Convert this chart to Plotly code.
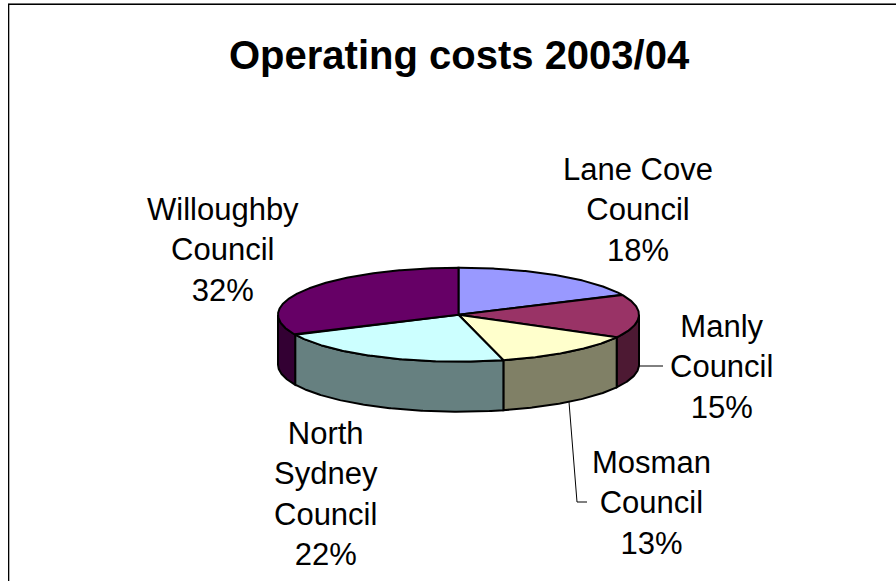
import numpy as np
import plotly.graph_objects as go

title = "Operating costs 2003/04"
councils = ["Lane Cove Council", "Manly Council", "Mosman Council", "North Sydney Council", "Willoughby Council"]
shares = [18, 15, 13, 22, 32]
top_colors = ["#9999FF", "#993366", "#FFFFCC", "#CCFFFF", "#660066"]
side_colors = ["#4D4D80", "#4D1933", "#808066", "#668080", "#330033"]
label_lines = [
    "Lane Cove<br>Council<br>18%",
    "Manly<br>Council<br>15%",
    "Mosman<br>Council<br>13%",
    "North<br>Sydney<br>Council<br>22%",
    "Willoughby<br>Council<br>32%",
]
label_x = [638, 721, 651, 326, 223]
label_y = [210, 367, 503, 494, 250]

CX, CY, RX, RY, DEPTH = 458.5, 314.7, 180.5, 47.0, 50.0


def rim(a0, a1, dy=0.0):
    t = np.radians(np.linspace(a0, a1, max(int(abs(a1 - a0) * 2), 2)))
    return CX + RX * np.sin(t), CY - RY * np.cos(t) + dy


fig = go.Figure()
edges = np.cumsum([0] + shares) * 3.6


def poly(x, y, color):
    fig.add_trace(go.Scatter(x=x, y=y, mode="lines", fill="toself", fillcolor=color,
                             line=dict(color="black", width=2), hoverinfo="skip", showlegend=False))


for i in range(len(shares)):
    a0, a1 = max(edges[i], 90), min(edges[i + 1], 270)
    if a1 > a0:
        xt, yt = rim(a0, a1)
        xb, yb = rim(a0, a1, DEPTH)
        poly(np.r_[xt, xb[::-1], xt[0]], np.r_[yt, yb[::-1], yt[0]], side_colors[i])

for i in range(len(shares)):
    x, y = rim(edges[i], edges[i + 1])
    poly(np.r_[CX, x, CX], np.r_[CY, y, CY], top_colors[i])

# leader lines
fig.add_trace(go.Scatter(x=[639, 663], y=[366, 366], mode="lines",
                         line=dict(color="black", width=1), hoverinfo="skip", showlegend=False))
fig.add_trace(go.Scatter(x=[569, 577, 587], y=[402, 502, 502], mode="lines",
                         line=dict(color="black", width=1), hoverinfo="skip", showlegend=False))

for text, x, y in zip(label_lines, label_x, label_y):
    fig.add_annotation(x=x, y=y, text=text, showarrow=False, xanchor="center", yanchor="middle",
                       align="center", font=dict(family="Liberation Sans", size=31, color="black"))

fig.add_annotation(x=459, y=55, text=f"<b>{title}</b>", showarrow=False, xanchor="center", yanchor="middle",
                   font=dict(family="Liberation Sans", size=40, color="black"))

# chart frame: black rule with a grey edge, open on the right and at the bottom
fig.add_shape(type="line", x0=8.5, x1=8.5, y0=4, y1=581, line=dict(color="black", width=1))
fig.add_shape(type="line", x0=9.5, x1=9.5, y0=5, y1=581, line=dict(color="#B0B0B0", width=1))
fig.add_shape(type="line", x0=8, x1=896, y0=4.5, y1=4.5, line=dict(color="black", width=1))
fig.add_shape(type="line", x0=8, x1=896, y0=3.5, y1=3.5, line=dict(color="#707070", width=1))

fig.update_xaxes(range=[0, 896], visible=False, fixedrange=True)
fig.update_yaxes(range=[581, 0], visible=False, fixedrange=True)
fig.update_layout(width=896, height=581, margin=dict(l=0, r=0, t=0, b=0),
                  paper_bgcolor="white", plot_bgcolor="white", showlegend=False)
fig.write_html("out.html", config={"displayModeBar": False},
               post_script="document.body.style.margin='0';document.documentElement.style.overflow='hidden';")
